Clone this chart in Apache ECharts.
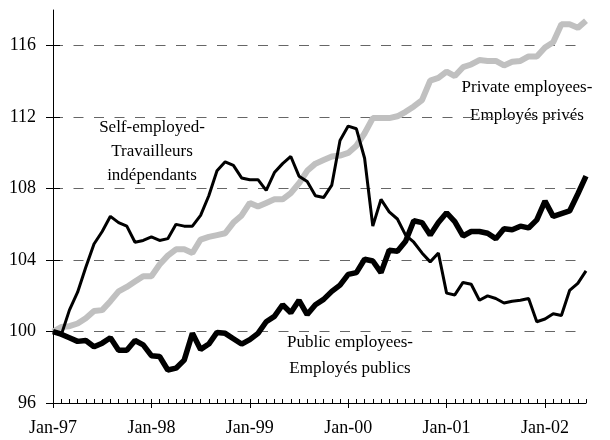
<!DOCTYPE html>
<html>
<head>
<meta charset="utf-8">
<script src="https://cdn.jsdelivr.net/npm/echarts@6/dist/echarts.min.js"></script>
<style>
html,body{margin:0;padding:0;background:#fff;}
#chart{width:610px;height:440px;}
</style>
</head>
<body>
<div id="chart"></div>
<script>
// months Jan-97 .. Jun-02
var monthNames=['Jan','Feb','Mar','Apr','May','Jun','Jul','Aug','Sep','Oct','Nov','Dec'];
var years=['97','98','99','00','01','02'];
var monthCount=66;

var yTicks=[96,100,104,108,112,116];

var privateEmp=[100.0,100.25,100.3,100.45,100.75,101.15,101.2,101.7,102.25,102.5,102.8,103.1,
	103.1,103.75,104.25,104.6,104.6,104.4,105.15,105.3,105.4,105.5,106.1,106.5,
	107.2,107.0,107.2,107.4,107.4,107.75,108.3,109.0,109.4,109.6,109.8,109.85,
	110.0,110.4,111.1,111.95,111.95,111.95,112.05,112.3,112.6,112.95,114.05,114.2,
	114.55,114.3,114.8,114.95,115.2,115.15,115.15,114.9,115.1,115.15,115.4,115.4,
	115.9,116.2,117.2,117.2,117.0,117.4];

var publicEmp=[100.0,99.85,99.65,99.45,99.5,99.15,99.35,99.65,98.95,98.95,99.5,99.25,
	98.65,98.6,97.85,97.95,98.4,99.9,99.0,99.3,99.95,99.9,99.6,99.3,
	99.55,99.9,100.55,100.85,101.5,101.05,101.75,100.95,101.5,101.8,102.25,102.6,
	103.2,103.3,104.05,103.95,103.3,104.55,104.5,105.05,106.2,106.1,105.4,106.1,
	106.65,106.15,105.35,105.6,105.6,105.5,105.2,105.75,105.7,105.9,105.8,106.25,
	107.3,106.45,106.6,106.75,107.7,108.7];

var selfEmp=[100.0,99.8,101.2,102.2,103.6,104.9,105.6,106.45,106.1,105.9,105.0,105.1,
	105.3,105.1,105.2,106.0,105.9,105.9,106.5,107.6,109.0,109.5,109.3,108.6,
	108.5,108.5,107.9,108.9,109.4,109.8,108.7,108.4,107.6,107.5,108.2,110.7,
	111.5,111.35,109.7,105.9,107.4,106.7,106.3,105.4,105.0,104.4,103.9,104.4,
	102.15,102.05,102.75,102.65,101.75,102.0,101.85,101.6,101.7,101.75,101.85,100.55,
	100.7,101.0,100.9,102.3,102.7,103.4];

var categories=[];
for(var i=0;i<monthCount;i++){
	categories.push(monthNames[i%12]+'-'+years[Math.floor(i/12)]);
}

var serif='"Liberation Serif","Times New Roman",serif';

var myChart=echarts.init(document.getElementById('chart'));
var option={
	animation:false,
	backgroundColor:'#fff',
	grid:{left:53,right:24,top:10,bottom:37},
	xAxis:[
		{
			type:'category',
			data:categories,
			boundaryGap:false,
			axisLine:{lineStyle:{color:'#000',width:1}},
			axisTick:{inside:true,length:4,interval:0,lineStyle:{color:'#000'}},
			axisLabel:{show:false},
			splitLine:{show:false}
		},
		{
			type:'category',
			data:categories,
			boundaryGap:false,
			position:'bottom',
			offset:0,
			axisLine:{show:false},
			axisTick:{length:5,interval:function(idx){return idx%12===0;},lineStyle:{color:'#000'}},
			axisLabel:{
				interval:function(idx){return idx%12===0;},
				margin:16,
				color:'#000',
				fontFamily:serif,
				fontSize:18
			},
			splitLine:{show:false}
		}
	],
	yAxis:[
		{
			type:'value',
			min:96,
			max:118,
			interval:4,
			axisLine:{show:true,lineStyle:{color:'#000',width:1}},
			axisTick:{show:true,length:7,customValues:yTicks,lineStyle:{color:'#000'}},
			axisLabel:{
				customValues:yTicks,
				margin:17,
				color:'#000',
				fontFamily:serif,
				fontSize:18
			},
			splitLine:{
				show:true,
				showMinLine:false,
				lineStyle:{color:'#666',width:1,type:[10,10.5]}
			}
		},
		{
			type:'value',
			min:96,
			max:118,
			interval:4,
			position:'left',
			offset:0,
			axisLine:{show:false},
			axisTick:{show:true,inside:true,length:7,customValues:yTicks,lineStyle:{color:'#000'}},
			axisLabel:{show:false},
			splitLine:{show:false}
		}
	],
	graphic:[
		{
			type:'text',
			x:152,y:152,
			style:{
				text:'Self-employed-\nTravailleurs\nindépendants',
				textAlign:'center',textVerticalAlign:'middle',
				lineHeight:24,
				font:'17px '+serif,
				fill:'#000'
			}
		},
		{
			type:'text',
			x:527,y:102,
			style:{
				text:'Private employees-\nEmployés privés',
				textAlign:'center',textVerticalAlign:'middle',
				lineHeight:28,
				font:'17px '+serif,
				fill:'#000'
			}
		},
		{
			type:'text',
			x:350,y:356,
			style:{
				text:'Public employees-\nEmployés publics',
				textAlign:'center',textVerticalAlign:'middle',
				lineHeight:26,
				font:'17px '+serif,
				fill:'#000'
			}
		}
	],
	series:[
		{
			name:'Private employees',
			type:'line',
			data:privateEmp,
			showSymbol:false,
			symbol:'none',
			lineStyle:{color:'#c0c0c0',width:6},
			z:2
		},
		{
			name:'Public employees',
			type:'line',
			data:publicEmp,
			showSymbol:false,
			symbol:'none',
			lineStyle:{color:'#000',width:5.5},
			z:3
		},
		{
			name:'Self-employed',
			type:'line',
			data:selfEmp,
			showSymbol:false,
			symbol:'none',
			lineStyle:{color:'#000',width:3},
			z:4
		}
	]
};
myChart.setOption(option);
</script>
</body>
</html>
